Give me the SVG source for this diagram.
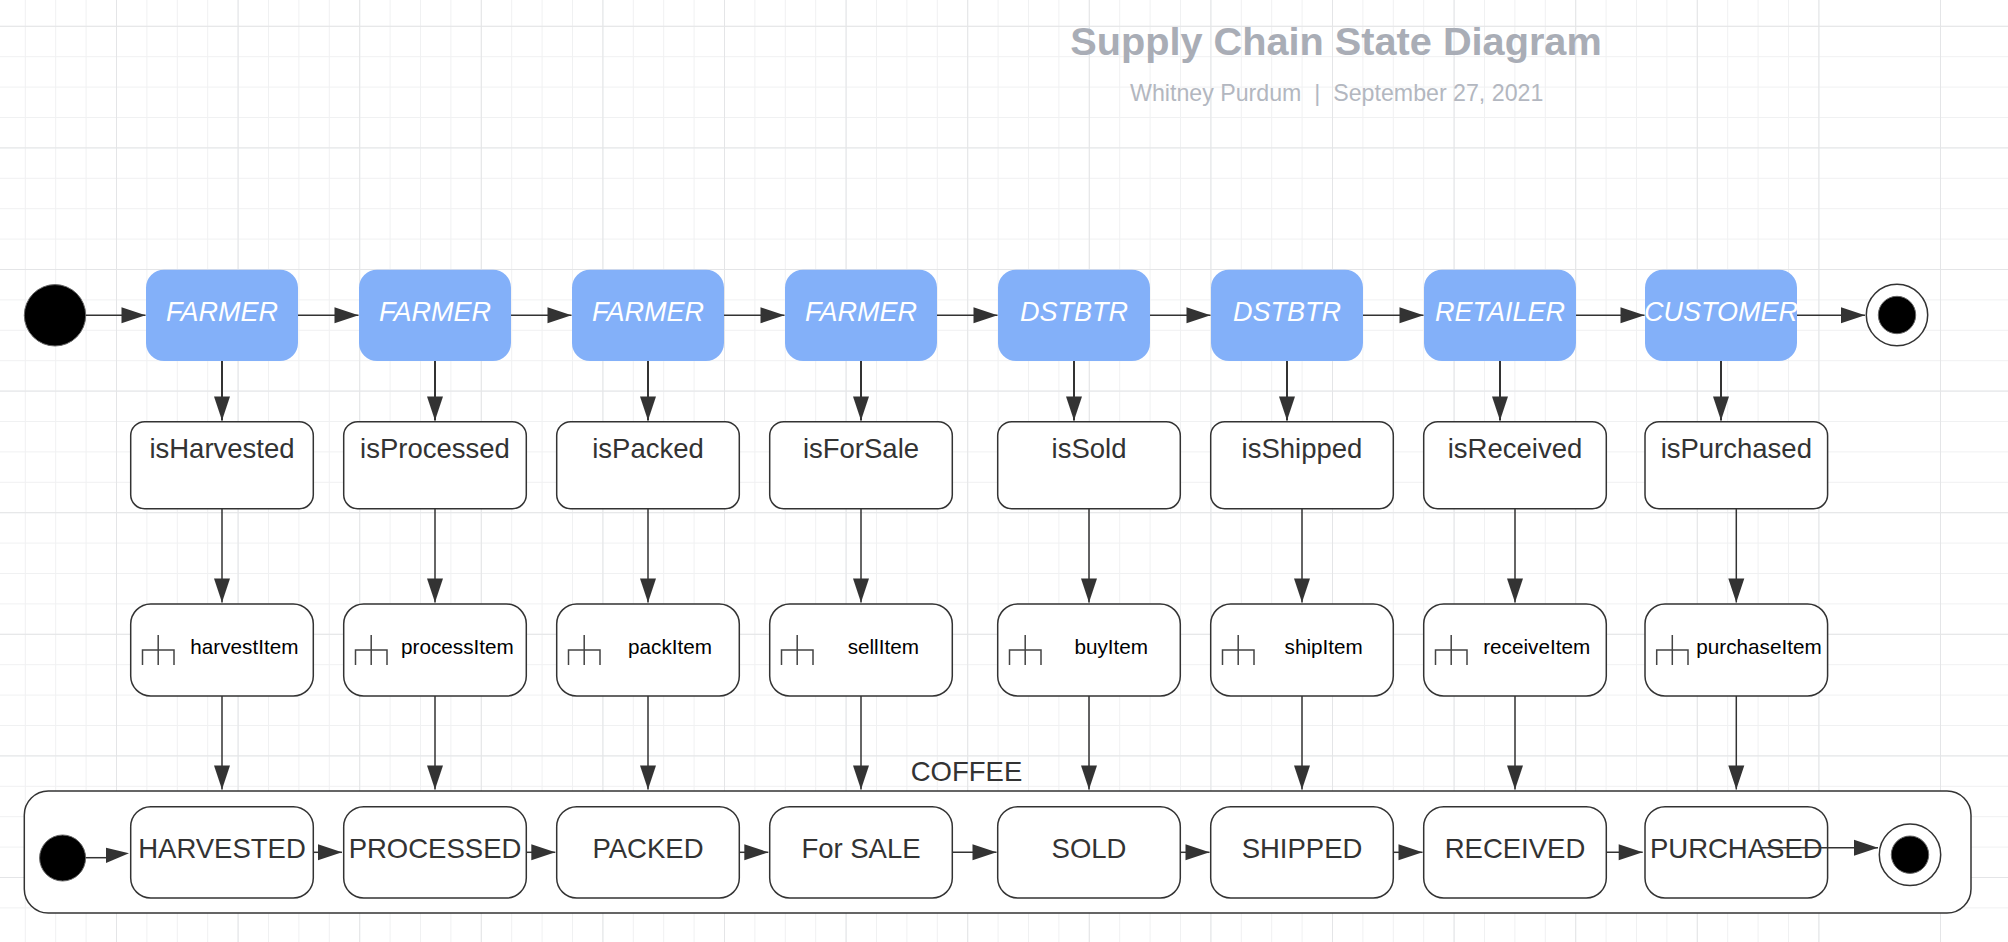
<svg xmlns="http://www.w3.org/2000/svg" width="2008" height="942" viewBox="0 0 2008 942">
<style>
text{font-family:"Liberation Sans",Arial,sans-serif;text-anchor:middle;fill:#333}
.bg{fill:#fff}
.minor{fill:none;stroke:#f0f1f2;stroke-width:1}
.major{fill:none;stroke:#e4e5e7;stroke-width:1}
.blue{fill:#83b0f9}
.bt{font-size:27px;font-style:italic;fill:#fff}
.box{fill:#fff;stroke:#333;stroke-width:1.5}
.t27{font-size:27.5px}
.item{font-size:20.7px;fill:#000}
.fork{fill:none;stroke:#444;stroke-width:1.5}
.dot{fill:#000;stroke:#666;stroke-width:1}
.ring{fill:#fff;stroke:#333;stroke-width:1.5}
.c{fill:none;stroke:#333;stroke-width:1.5;marker-end:url(#a)}
.c2{stroke-width:2}
.n{fill:none;stroke:#333;stroke-width:1.5}
.h{fill:#333}
</style>
<defs>
<marker id="a" markerUnits="userSpaceOnUse" markerWidth="24" markerHeight="16" refX="24" refY="8" orient="auto" overflow="visible"><path d="M0 0L24 8L0 16z" fill="#333"/></marker>
</defs>
<rect class="bg" width="2008" height="942"/>
<g id="grid">
<path class="minor" d="M-5.1 0V942m30.4 -942V942m30.4 -942V942m30.4 -942V942m30.4 -942V942m30.4 -942V942m30.4 -942V942m30.4 -942V942m30.4 -942V942m30.4 -942V942m30.4 -942V942m30.4 -942V942m30.4 -942V942m30.4 -942V942m30.4 -942V942m30.4 -942V942m30.4 -942V942m30.4 -942V942m30.4 -942V942m30.4 -942V942m30.4 -942V942m30.4 -942V942m30.4 -942V942m30.4 -942V942m30.4 -942V942m30.4 -942V942m30.4 -942V942m30.4 -942V942m30.4 -942V942m30.4 -942V942m30.4 -942V942m30.4 -942V942m30.4 -942V942m30.4 -942V942m30.4 -942V942m30.4 -942V942m30.4 -942V942m30.4 -942V942m30.4 -942V942m30.4 -942V942m30.4 -942V942m30.4 -942V942m30.4 -942V942m30.4 -942V942m30.4 -942V942m30.4 -942V942m30.4 -942V942m30.4 -942V942m30.4 -942V942m30.4 -942V942m30.4 -942V942m30.4 -942V942m30.4 -942V942m30.4 -942V942m30.4 -942V942m30.4 -942V942m30.4 -942V942m30.4 -942V942m30.4 -942V942m30.4 -942V942m30.4 -942V942"/>
<path class="minor" d="M0 -4.1H2008m-2008 30.4H2008m-2008 30.4H2008m-2008 30.4H2008m-2008 30.4H2008m-2008 30.4H2008m-2008 30.4H2008m-2008 30.4H2008m-2008 30.4H2008m-2008 30.4H2008m-2008 30.4H2008m-2008 30.4H2008m-2008 30.4H2008m-2008 30.4H2008m-2008 30.4H2008m-2008 30.4H2008m-2008 30.4H2008m-2008 30.4H2008m-2008 30.4H2008m-2008 30.4H2008m-2008 30.4H2008m-2008 30.4H2008m-2008 30.4H2008m-2008 30.4H2008m-2008 30.4H2008m-2008 30.4H2008m-2008 30.4H2008m-2008 30.4H2008m-2008 30.4H2008m-2008 30.4H2008m-2008 30.4H2008"/>
<path class="major" d="M116.5 0V942m121.6 -942V942m121.6 -942V942m121.6 -942V942m121.6 -942V942m121.6 -942V942m121.6 -942V942m121.6 -942V942m121.6 -942V942m121.6 -942V942m121.6 -942V942m121.6 -942V942m121.6 -942V942m121.6 -942V942m121.6 -942V942m121.6 -942V942"/>
<path class="major" d="M0 26.3H2008m-2008 121.6H2008m-2008 121.6H2008m-2008 121.6H2008m-2008 121.6H2008m-2008 121.6H2008m-2008 121.6H2008m-2008 121.6H2008"/>
</g>
<g id="title">
<text x="1336" y="55" font-size="39.7" font-weight="700" style="fill:#a9adb6">Supply Chain State Diagram</text>
<text x="1336.7" y="101" font-size="23.2" style="fill:#b3b7c0">Whitney Purdum&#160; |&#160; September 27, 2021</text>
</g>
<g id="start"><circle class="dot" cx="55" cy="315.3" r="30.7"/></g>
<g id="end"><circle class="ring" cx="1897" cy="315" r="30.7"/><circle class="dot" cx="1897" cy="315" r="18.7"/></g>

<g id="actor1"><rect class="blue" x="146" y="269.7" width="152" height="91.3" rx="18"/><text class="bt" x="222" y="321.3">FARMER</text></g>
<g id="actor2"><rect class="blue" x="359" y="269.7" width="152" height="91.3" rx="18"/><text class="bt" x="435" y="321.3">FARMER</text></g>
<g id="actor3"><rect class="blue" x="572" y="269.7" width="152" height="91.3" rx="18"/><text class="bt" x="648" y="321.3">FARMER</text></g>
<g id="actor4"><rect class="blue" x="785" y="269.7" width="152" height="91.3" rx="18"/><text class="bt" x="861" y="321.3">FARMER</text></g>
<g id="actor5"><rect class="blue" x="998" y="269.7" width="152" height="91.3" rx="18"/><text class="bt" x="1074" y="321.3">DSTBTR</text></g>
<g id="actor6"><rect class="blue" x="1211" y="269.7" width="152" height="91.3" rx="18"/><text class="bt" x="1287" y="321.3">DSTBTR</text></g>
<g id="actor7"><rect class="blue" x="1424" y="269.7" width="152" height="91.3" rx="18"/><text class="bt" x="1500" y="321.3">RETAILER</text></g>
<g id="actor8"><rect class="blue" x="1645" y="269.7" width="152" height="91.3" rx="18"/><text class="bt" x="1721" y="321.3">CUSTOMER</text></g>

<g id="guard1"><rect class="box" x="130.7" y="421.7" width="182.6" height="87" rx="14"/><text class="t27" x="222" y="457.7">isHarvested</text></g>
<g id="guard2"><rect class="box" x="343.7" y="421.7" width="182.6" height="87" rx="14"/><text class="t27" x="435" y="457.7">isProcessed</text></g>
<g id="guard3"><rect class="box" x="556.7" y="421.7" width="182.6" height="87" rx="14"/><text class="t27" x="648" y="457.7">isPacked</text></g>
<g id="guard4"><rect class="box" x="769.7" y="421.7" width="182.6" height="87" rx="14"/><text class="t27" x="861" y="457.7">isForSale</text></g>
<g id="guard5"><rect class="box" x="997.7" y="421.7" width="182.6" height="87" rx="14"/><text class="t27" x="1089" y="457.7">isSold</text></g>
<g id="guard6"><rect class="box" x="1210.7" y="421.7" width="182.6" height="87" rx="14"/><text class="t27" x="1302" y="457.7">isShipped</text></g>
<g id="guard7"><rect class="box" x="1423.7" y="421.7" width="182.6" height="87" rx="14"/><text class="t27" x="1515" y="457.7">isReceived</text></g>
<g id="guard8"><rect class="box" x="1645" y="421.7" width="182.6" height="87" rx="14"/><text class="t27" x="1736.3" y="457.7">isPurchased</text></g>

<g id="call1"><rect class="box" x="130.7" y="604" width="182.6" height="92" rx="20"/><path class="fork" d="M142.5 665V650H174V665M158.2 635V665"/><text class="item" x="244.4" y="654">harvestItem</text></g>
<g id="call2"><rect class="box" x="343.7" y="604" width="182.6" height="92" rx="20"/><path class="fork" d="M355.5 665V650H387V665M371.2 635V665"/><text class="item" x="457.4" y="654">processItem</text></g>
<g id="call3"><rect class="box" x="556.7" y="604" width="182.6" height="92" rx="20"/><path class="fork" d="M568.5 665V650H600V665M584.2 635V665"/><text class="item" x="670" y="654">packItem</text></g>
<g id="call4"><rect class="box" x="769.7" y="604" width="182.6" height="92" rx="20"/><path class="fork" d="M781.5 665V650H813V665M797.2 635V665"/><text class="item" x="883.3" y="654">sellItem</text></g>
<g id="call5"><rect class="box" x="997.7" y="604" width="182.6" height="92" rx="20"/><path class="fork" d="M1009.5 665V650H1041V665M1025.2 635V665"/><text class="item" x="1111.2" y="654">buyItem</text></g>
<g id="call6"><rect class="box" x="1210.7" y="604" width="182.6" height="92" rx="20"/><path class="fork" d="M1222.5 665V650H1254V665M1238.2 635V665"/><text class="item" x="1323.7" y="654">shipItem</text></g>
<g id="call7"><rect class="box" x="1423.7" y="604" width="182.6" height="92" rx="20"/><path class="fork" d="M1435.5 665V650H1467V665M1451.2 635V665"/><text class="item" x="1536.7" y="654">receiveItem</text></g>
<g id="call8"><rect class="box" x="1645" y="604" width="182.6" height="92" rx="20"/><path class="fork" d="M1656.7 665V650H1688V665M1672.3 635V665"/><text class="item" x="1759" y="654">purchaseItem</text></g>

<g id="coffee">
<rect class="box" x="24.3" y="791" width="1946.7" height="122" rx="24"/>
<text class="t27" x="966.5" y="780.5">COFFEE</text>
</g>
<g id="innerstart"><circle class="dot" cx="62.6" cy="858" r="23"/></g>
<g id="innerend"><circle class="ring" cx="1910" cy="854.7" r="30.7"/><circle class="dot" cx="1910" cy="854.7" r="18.7"/></g>
<g id="state1"><rect class="box" x="130.7" y="806.7" width="182.6" height="91.3" rx="20"/><text class="t27" x="222" y="858">HARVESTED</text></g>
<g id="state2"><rect class="box" x="343.7" y="806.7" width="182.6" height="91.3" rx="20"/><text class="t27" x="435" y="858">PROCESSED</text></g>
<g id="state3"><rect class="box" x="556.7" y="806.7" width="182.6" height="91.3" rx="20"/><text class="t27" x="648" y="858">PACKED</text></g>
<g id="state4"><rect class="box" x="769.7" y="806.7" width="182.6" height="91.3" rx="20"/><text class="t27" x="861" y="858">For SALE</text></g>
<g id="state5"><rect class="box" x="997.7" y="806.7" width="182.6" height="91.3" rx="20"/><text class="t27" x="1089" y="858">SOLD</text></g>
<g id="state6"><rect class="box" x="1210.7" y="806.7" width="182.6" height="91.3" rx="20"/><text class="t27" x="1302" y="858">SHIPPED</text></g>
<g id="state7"><rect class="box" x="1423.7" y="806.7" width="182.6" height="91.3" rx="20"/><text class="t27" x="1515" y="858">RECEIVED</text></g>
<g id="state8"><rect class="box" x="1645" y="806.7" width="182.6" height="91.3" rx="20"/><text class="t27" x="1736.3" y="858">PURCHASED</text></g>

<g id="connectors">
<path class="c" d="M85.7 315.3H145.5"/>
<path class="c" d="M298 315.3H358.5"/>
<path class="c" d="M511 315.3H571.5"/>
<path class="c" d="M724 315.3H784.5"/>
<path class="c" d="M937 315.3H997.5"/>
<path class="c" d="M1150 315.3H1210.5"/>
<path class="c" d="M1363 315.3H1423.5"/>
<path class="c" d="M1576 315.3H1644.5"/>
<path class="c" d="M1797 315.3H1865"/>
<path class="c c2" d="M222 361V420.5"/>
<path class="c c2" d="M435 361V420.5"/>
<path class="c c2" d="M648 361V420.5"/>
<path class="c c2" d="M861 361V420.5"/>
<path class="c c2" d="M1074 361V420.5"/>
<path class="c c2" d="M1287 361V420.5"/>
<path class="c c2" d="M1500 361V420.5"/>
<path class="c c2" d="M1721 361V420.5"/>
<path class="c" d="M222 508.7V602.5"/>
<path class="c" d="M435 508.7V602.5"/>
<path class="c" d="M648 508.7V602.5"/>
<path class="c" d="M861 508.7V602.5"/>
<path class="c" d="M1089 508.7V602.5"/>
<path class="c" d="M1302 508.7V602.5"/>
<path class="c" d="M1515 508.7V602.5"/>
<path class="c" d="M1736.3 508.7V602.5"/>
<path class="c" d="M222 696V789.5"/>
<path class="c" d="M435 696V789.5"/>
<path class="c" d="M648 696V789.5"/>
<path class="c" d="M861 696V789.5"/>
<path class="c" d="M1089 696V789.5"/>
<path class="c" d="M1302 696V789.5"/>
<path class="c" d="M1515 696V789.5"/>
<path class="c" d="M1736.3 696V789.5"/>
<path class="n" d="M85.6 857.7H107"/>
<path class="h" d="M106 847.7L129 853.3L106 863z"/>
<path class="c" d="M313.3 852.3H342"/>
<path class="c" d="M526.3 852.3H555.3"/>
<path class="c" d="M739.3 852.3H768.3"/>
<path class="c" d="M952.3 852.3H996.5"/>
<path class="c" d="M1180.3 852.3H1209.5"/>
<path class="c" d="M1393.3 852.3H1422.5"/>
<path class="c" d="M1606.3 852.3H1642.7"/>
<path class="c" d="M1760 847.7H1878"/>
</g>
</svg>
